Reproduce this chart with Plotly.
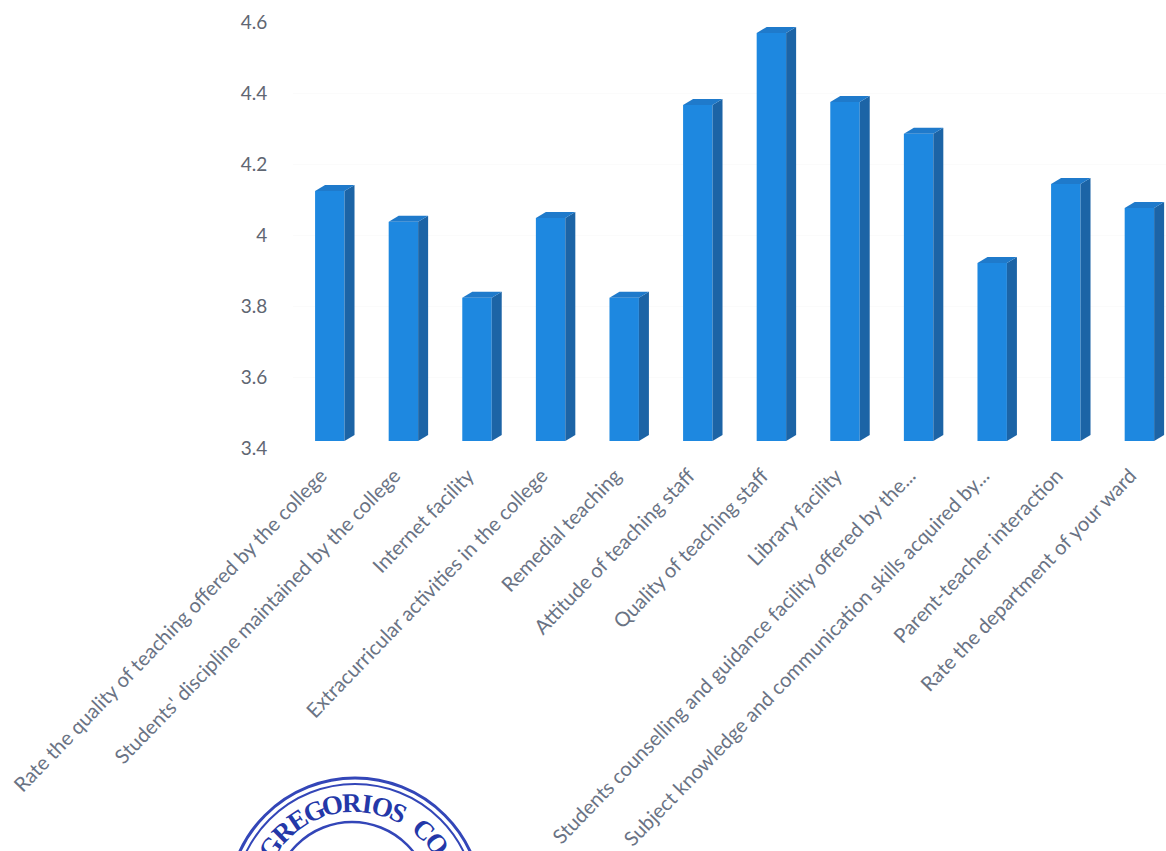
import math
import plotly.graph_objects as go

categories = [
    "Rate the quality of teaching offered by the college",
    "Students' discipline maintained by the college",
    "Internet facility",
    "Extracurricular activities in the college",
    "Remedial teaching",
    "Attitude of teaching staff",
    "Quality of teaching staff",
    "Library facility",
    "Students counselling and guidance facility offered by the...",
    "Subject knowledge and communication skills acquired by...",
    "Parent-teacher interaction",
    "Rate the department of your ward",
]
values = [4.124, 4.037, 3.823, 4.048, 3.823, 4.366, 4.569, 4.375, 4.285, 3.921, 4.144, 4.076]
y_ticks = [3.4, 3.6, 3.8, 4.0, 4.2, 4.4, 4.6]
y_labels = ["3.4", "3.6", "3.8", "4", "4.2", "4.4", "4.6"]
stamp_letters = list("GREGORIOS CO")
stamp_widths = [11, 11, 10, 11, 11, 11, 6, 11, 9, 7, 11, 11]

W, H = 1166, 851
LEFT = 293
STEP = 73.6
TOP_PX, BOTTOM_PX = 22, 448
BASE = 3.42
HALF_W = 0.2          # half bar width, category units
DX = 10 / STEP        # depth, category units
DY = 6 * 1.2 / (BOTTOM_PX - TOP_PX)  # depth, value units

FRONT, SIDE, TOPC = "#1e88e0", "#1c64a6", "#1f7acb"

fig = go.Figure()
xs = list(range(len(categories)))

# side and top faces, derived from the values
for x, v in zip(xs, values):
    r = x + HALF_W
    l = x - HALF_W
    fig.add_trace(go.Scatter(x=[r, r + DX, r + DX, r, r], y=[BASE, BASE + DY, v + DY, v, BASE],
                             mode="lines", fill="toself", fillcolor=SIDE, line=dict(width=0),
                             hoverinfo="skip", showlegend=False))
    fig.add_trace(go.Scatter(x=[l, l + DX, r + DX, r, l], y=[v, v + DY, v + DY, v, v],
                             mode="lines", fill="toself", fillcolor=TOPC, line=dict(width=0),
                             hoverinfo="skip", showlegend=False))

fig.add_trace(go.Bar(x=xs, y=[v - BASE for v in values], base=BASE, width=HALF_W * 2,
                     marker=dict(color=FRONT, line=dict(width=0)), showlegend=False))

fig.update_layout(
    width=W, height=H, autosize=False,
    margin=dict(l=LEFT, r=0, t=TOP_PX, b=H - BOTTOM_PX),
    paper_bgcolor="white", plot_bgcolor="white",
    font=dict(family="Lato", color="#59616e"),
    xaxis=dict(range=[-0.5, (W - LEFT) / STEP - 0.5], tickmode="array", tickvals=xs, ticktext=categories,
               tickangle=-46, tickfont=dict(size=20.2, color="#6a7384"),
               ticks="outside", ticklen=7, tickcolor="rgba(0,0,0,0)", ticklabelshift=-9, showgrid=False,
               showline=False, zeroline=False, automargin=False),
    yaxis=dict(range=[3.4, 4.6], tickmode="array", tickvals=y_ticks, ticktext=y_labels,
               tickfont=dict(size=19, color="#5f6672"), ticks="outside", ticklen=21,
               tickcolor="rgba(0,0,0,0)", showgrid=True, gridcolor="#fbfbfb",
               showline=False, zeroline=False, automargin=False),
)

# seal at the bottom of the page, in page pixels
STAMP = "#3346b8"
def px_x(p): return (p - LEFT) / (W - LEFT)
def px_y(p): return (BOTTOM_PX - p) / (BOTTOM_PX - TOP_PX)
def ring(cx, cy, r, w):
    fig.add_shape(type="circle", xref="paper", yref="paper",
                  x0=px_x(cx - r), x1=px_x(cx + r), y0=px_y(cy + r), y1=px_y(cy - r),
                  line=dict(color=STAMP, width=w), layer="above")
ring(355, 905, 127, 3)
ring(355, 905, 121, 2)
ring(352, 900, 78, 2.5)

CX, CY, R = 355, 905, 102
a = -55.5
for i, ch in enumerate(stamp_letters):
    if i:
        a += (stamp_widths[i - 1] + stamp_widths[i]) / 2
    if ch == " ":
        continue
    ax = CX + R * math.sin(math.radians(a))
    ay = CY - R * math.cos(math.radians(a))
    fig.add_annotation(x=px_x(ax), y=px_y(ay), xref="paper", yref="paper", text=f"<b>{ch}</b>", showarrow=False,
                       textangle=a, font=dict(family="Liberation Serif", size=27, color="#2438a8"),
                       xanchor="center", yanchor="middle")

fig.write_html("out.html", config={"displayModeBar": False},
               post_script="document.body.style.margin='0';document.body.style.overflow='hidden';")
